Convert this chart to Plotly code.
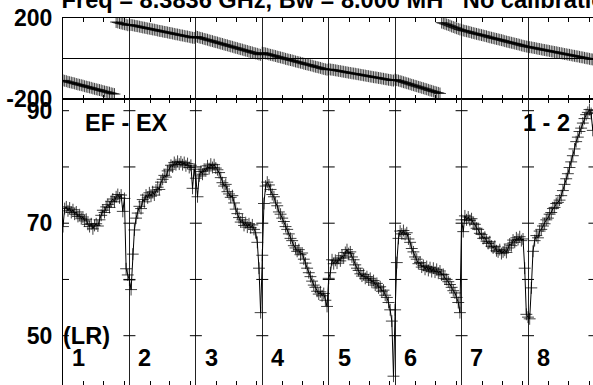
import plotly.graph_objects as go

W, H = 593, 385

# Switched sweep: 8 antenna positions, 40 samples per position
N_POS = 8
N_PER = 40

# EF - EX magnitude (dB) for positions 1..8
mag_1 = [69.4, 72.6, 72.9, 72.2, 72.7, 71.9, 72.4, 71.6, 72.0, 71.2,
         71.5, 70.8, 71.1, 70.4, 70.7, 69.8, 69.4, 69.9, 69.0, 69.6,
         69.9, 69.5, 70.6, 71.4, 72.3, 71.9, 72.9, 73.3, 72.8, 73.9,
         74.3, 73.8, 74.7, 75.1, 74.5, 75.0, 72.1, 74.4, 61.9, 60.8]
mag_2 = [59.9, 58.2, 64.5, 68.8, 70.9, 71.8, 73.0, 72.6, 74.2, 73.8,
         75.0, 74.5, 75.4, 74.8, 75.6, 75.0, 75.9, 76.4, 76.0, 77.3,
         77.8, 78.5, 78.2, 79.3, 79.6, 80.3, 80.0, 80.8, 80.4, 81.0,
         80.5, 80.9, 80.4, 80.8, 80.2, 80.6, 79.9, 80.3, 76.2, 79.6]
mag_3 = [78.0, 74.7, 78.4, 79.2, 78.7, 79.6, 79.3, 80.2, 79.7, 80.5,
         79.9, 80.4, 79.8, 79.5, 79.0, 78.1, 77.2, 76.6, 76.9, 75.6,
         75.2, 74.6, 74.9, 73.6, 72.5, 71.7, 71.0, 70.2, 70.6, 69.6,
         70.1, 69.3, 69.9, 69.2, 69.7, 68.9, 68.3, 66.6, 62.0, 54.1]
mag_4 = [64.3, 73.5, 76.6, 77.3, 76.8, 76.0, 75.1, 74.7, 73.6, 73.1,
         72.0, 71.6, 70.9, 70.3, 69.4, 68.9, 68.1, 67.3, 66.9, 66.0,
         65.6, 65.0, 65.3, 64.4, 64.7, 63.6, 62.9, 62.0, 61.2, 60.5,
         59.7, 59.0, 58.6, 57.9, 57.4, 57.8, 57.1, 57.5, 56.3, 55.2]
mag_5 = [60.2, 61.2, 63.5, 62.8, 63.4, 62.9, 63.8, 63.3, 64.2, 63.8,
         64.8, 65.3, 64.6, 64.9, 64.0, 63.5, 62.6, 62.0, 61.6, 61.0,
         60.6, 60.9, 60.2, 60.5, 59.9, 60.2, 59.5, 59.8, 59.0, 59.3,
         58.5, 58.7, 57.9, 58.1, 57.2, 56.8, 55.9, 54.6, 52.6, 42.8]
mag_6 = [54.6, 63.0, 67.3, 68.6, 68.1, 68.7, 68.0, 68.3, 67.2, 66.6,
         65.5, 64.9, 64.0, 63.6, 62.8, 63.0, 62.2, 62.5, 61.8, 62.3,
         61.6, 62.1, 61.4, 62.0, 61.3, 61.8, 61.1, 61.5, 60.8, 60.9,
         60.2, 60.0, 59.6, 59.1, 58.6, 58.0, 57.6, 56.8, 55.9, 54.1]
mag_7 = [70.6, 68.5, 71.3, 70.6, 71.1, 70.5, 70.8, 70.0, 69.8, 69.1,
         68.9, 68.2, 68.0, 67.3, 67.5, 66.8, 66.4, 66.7, 65.9, 65.6,
         65.9, 65.1, 64.9, 65.3, 64.6, 64.9, 65.2, 64.8, 65.6, 66.3,
         66.0, 67.0, 66.6, 67.4, 67.1, 67.6, 66.9, 67.2, 62.0, 53.8]
mag_8 = [53.3, 53.0, 58.5, 65.0, 66.9, 67.8, 67.4, 68.6, 68.9, 69.5,
         69.9, 70.6, 70.9, 71.6, 71.9, 72.6, 72.8, 73.5, 73.7, 74.1,
         74.9, 75.8, 76.9, 77.9, 78.8, 79.9, 80.9, 82.0, 83.2, 84.5,
         85.3, 86.3, 86.9, 87.8, 88.6, 89.3, 89.7, 90.2, 89.5, 86.5]

# Phase (deg), wrapped to +/-180
ph_1 = [-110, -112, -114, -117, -119, -121, -123, -125, -128, -130,
        -132, -134, -136, -139, -141, -143, -145, -147, -150, -152,
        -154, -156, -158, -160, -163, -165, -167, -169, -171, -174,
        -176, -178, 180, 178, 175, 173, 171, 169, 167, 164]
ph_2 = [167, 165, 164, 162, 160, 159, 157, 155, 153, 152,
        150, 148, 147, 145, 143, 142, 140, 138, 136, 135,
        133, 131, 130, 128, 126, 125, 123, 121, 119, 118,
        116, 114, 113, 111, 109, 108, 106, 104, 102, 101]
ph_3 = [108, 106, 103, 101, 99, 96, 94, 92, 89, 87,
        85, 82, 80, 78, 75, 73, 71, 68, 66, 64,
        61, 59, 57, 54, 52, 50, 47, 45, 43, 40,
        38, 36, 33, 31, 29, 26, 24, 22, 19, 17]
ph_4 = [28, 26, 24, 22, 19, 17, 15, 13, 11, 8,
        6, 4, 2, 0, -3, -5, -7, -9, -11, -13,
        -16, -18, -20, -22, -24, -27, -29, -31, -33, -35,
        -37, -40, -42, -44, -46, -48, -51, -53, -55, -57]
ph_5 = [-54, -56, -57, -58, -60, -61, -63, -64, -66, -67,
        -69, -70, -72, -73, -75, -76, -77, -79, -80, -82,
        -83, -85, -86, -88, -89, -91, -92, -94, -95, -96,
        -98, -99, -101, -102, -104, -105, -107, -108, -110, -111]
ph_6 = [-106, -109, -111, -114, -116, -119, -121, -124, -126, -129,
        -132, -134, -137, -139, -142, -144, -147, -149, -152, -154,
        -157, -160, -162, -165, -167, -170, -172, -175, 177, 174,
        171, 168, 165, 162, 158, 155, 152, 149, 146, 143]
ph_7 = [140, 138, 136, 134, 132, 130, 127, 125, 123, 121,
        119, 117, 115, 113, 111, 109, 106, 104, 102, 100,
        98, 96, 94, 92, 90, 88, 85, 83, 81, 79,
        77, 75, 73, 71, 69, 67, 64, 62, 60, 58]
ph_8 = [57, 55, 54, 52, 51, 49, 47, 46, 44, 42,
        41, 39, 38, 36, 34, 33, 31, 30, 28, 26,
        25, 23, 21, 20, 18, 17, 15, 13, 12, 10,
        9, 7, 5, 4, 2, 0, -1, -3, -5, -6]

mags = [mag_1, mag_2, mag_3, mag_4, mag_5, mag_6, mag_7, mag_8]
phases = [ph_1, ph_2, ph_3, ph_4, ph_5, ph_6, ph_7, ph_8]
pos_labels = ["1", "2", "3", "4", "5", "6", "7", "8"]

mag_ticks = [50, 70, 90]
mag_grid = [50, 60, 70, 80, 90]
ph_ticks = [-200, 200]
ph_ticktext = ["-200", "200"]

# sample positions along the sweep, one unit per antenna position
xs = [s + k / N_PER for s in range(N_POS) for k in range(N_PER)]
ym = [v for seg in mags for v in seg]
yp_raw = [v for seg in phases for v in seg]

# break the phase trace at each wrap so no vertical jump is drawn
xp, yp = [xs[0]], [yp_raw[0]]
for i in range(1, len(xs)):
    if abs(yp_raw[i] - yp_raw[i - 1]) > 180:
        xp.append(None)
        yp.append(None)
    xp.append(xs[i])
    yp.append(yp_raw[i])

FONT = "Liberation Sans, Arial, sans-serif"
tick_font = dict(family=FONT, size=23, color="black", weight="bold")
label_font = dict(family=FONT, size=23.5, color="black", weight="bold")
title_font = dict(family=FONT, size=23.6, color="black", weight="bold")

marker = dict(symbol="cross-thin", size=8.5,
              line=dict(color="rgba(0,0,0,0.75)", width=1))

fig = go.Figure()
fig.add_trace(go.Scatter(x=xp, y=yp, xaxis="x", yaxis="y",
                         mode="lines+markers", connectgaps=False,
                         line=dict(color="black", width=1), marker=marker,
                         hoverinfo="skip", showlegend=False))
fig.add_trace(go.Scatter(x=xs, y=ym, xaxis="x2", yaxis="y2",
                         mode="lines+markers",
                         line=dict(color="black", width=1), marker=marker,
                         hoverinfo="skip", showlegend=False))

L = 63
SEG_PX = 66.43
x_end = (W - L) / SEG_PX
split = 1 - 98.5 / H
top = 1 - 18 / H

minor_vals = [s + f for s in range(N_POS) for f in (0.31, 0.61, 0.92)]

def xaxis_cfg(anchor):
    return dict(anchor=anchor, range=[0, x_end], showline=True,
                linecolor="black", linewidth=1, mirror="ticks",
                tickmode="array", tickvals=minor_vals, ticks="inside",
                ticklen=4, tickcolor="black", tickwidth=1,
                showticklabels=False, showgrid=False, zeroline=False,
                automargin=False,
                minor=dict(tickmode="array", tickvals=list(range(N_POS + 1)),
                           showgrid=True, gridcolor="#222", gridwidth=1,
                           ticks=""))

# vertical scale of the magnitude panel: 5.625 px per dB, 90 dB at y=110.7
px_per_db = 5.625
mag_top = 90 + (110.7 - 98.5) / px_per_db
mag_bot = 50 - (H - 335.7) / px_per_db

fig.update_layout(
    width=W, height=H,
    margin=dict(l=L, r=0, t=0, b=0, pad=0, autoexpand=False),
    paper_bgcolor="white", plot_bgcolor="white",
    title=dict(text="Freq = 8.3836 GHz, Bw = 8.000 MH\u00a0\u00a0\u00a0No calibration",
               x=61.6 / W, xanchor="left", xref="container",
               y=1.0, yanchor="middle", yref="container",
               font=title_font, pad=dict(t=0, b=0, l=0, r=0),
               automargin=False),
    xaxis=xaxis_cfg("y"),
    xaxis2=xaxis_cfg("y2"),
    yaxis=dict(domain=[split, top], range=[-200, 200], anchor="x",
               tickmode="array", tickvals=ph_ticks, ticktext=ph_ticktext,
               ticks="", showgrid=False, zeroline=True,
               zerolinecolor="black", zerolinewidth=1,
               showline=True, linecolor="black", linewidth=1,
               tickfont=tick_font, ticklabelstandoff=5, automargin=False),
    yaxis2=dict(domain=[0, split], range=[mag_bot, mag_top], anchor="x2",
                tickmode="array", tickvals=mag_ticks, ticks="",
                showgrid=False, zeroline=False,
                showline=True, linecolor="black", linewidth=1,
                tickfont=tick_font, ticklabelstandoff=5, automargin=False),
)

# short horizontal ticks where each 10 dB level crosses a position line
shapes = []
for s in range(N_POS + 1):
    for v in mag_grid:
        shapes.append(dict(type="line", xref="x2", yref="y2",
                           xsizemode="pixel", xanchor=s, x0=-6, x1=6,
                           y0=v, y1=v, line=dict(color="black", width=1)))
fig.update_layout(shapes=shapes)

ann = [
    dict(text="EF - EX", x=0.306, y=87.74, xanchor="left"),
    dict(text="1 - 2", x=7.658, y=87.74, xanchor="right"),
    dict(text="(LR)", x=0, xshift=-2.3, y=49.95, xanchor="left"),
]
for s, lab in enumerate(pos_labels):
    ann.append(dict(text=lab, x=s + 0.102, y=46.04, xanchor="left"))
for a in ann:
    a.update(xref="x2", yref="y2", yanchor="middle",
             showarrow=False, font=label_font)
fig.update_layout(annotations=ann)

fig.write_html("out.html", config={"displayModeBar": False})
